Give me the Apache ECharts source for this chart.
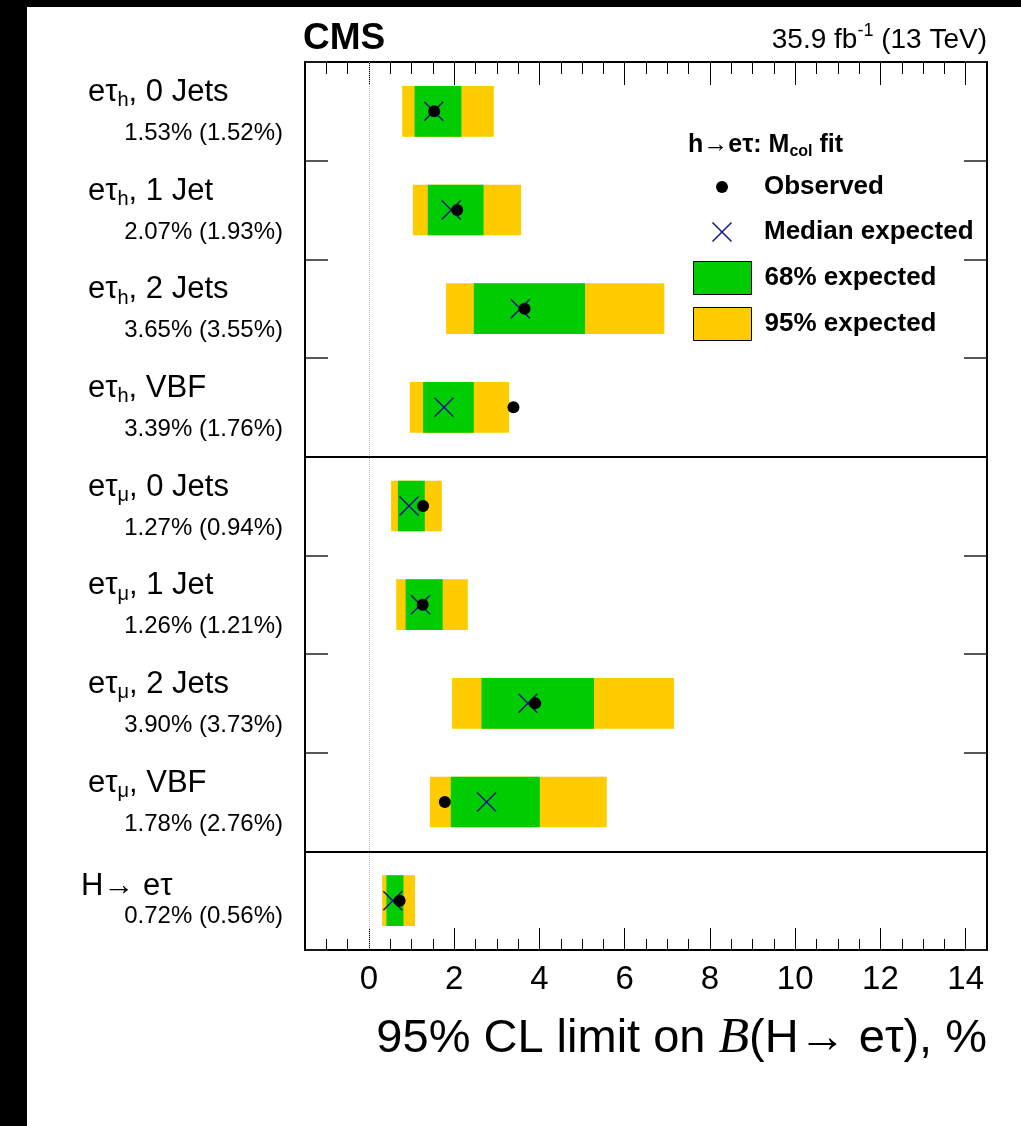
<!DOCTYPE html>
<html>
<head>
<meta charset="utf-8">
<title>95% CL limits on B(H→eτ)</title>
<script src="https://cdn.jsdelivr.net/npm/echarts@6/dist/echarts.min.js"></script>
<style>
  html, body { margin: 0; padding: 0; background: #fff; }
  #chart { width: 1021px; height: 1126px; }
</style>
</head>
<body>
<div id="chart"></div>
<script>
// ---- Channel definitions (top to bottom) ----
const finalStates  = ['eτ', 'eτ', 'eτ', 'eτ', 'eτ', 'eτ', 'eτ', 'eτ', 'H→ eτ'];
const tauDecays    = ['h', 'h', 'h', 'h', 'μ', 'μ', 'μ', 'μ', ''];
const jetCategories = ['0 Jets', '1 Jet', '2 Jets', 'VBF', '0 Jets', '1 Jet', '2 Jets', 'VBF', ''];

// ---- Limits on the branching fraction, in % ----
const observed   = [1.53, 2.07, 3.65, 3.39, 1.27, 1.26, 3.90, 1.78, 0.72];
const expected   = [1.52, 1.93, 3.55, 1.76, 0.94, 1.21, 3.73, 2.76, 0.56];
const band68Low  = [1.07, 1.38, 2.46, 1.27, 0.68, 0.86, 2.64, 1.92, 0.41];
const band68High = [2.17, 2.69, 5.07, 2.46, 1.31, 1.73, 5.28, 4.01, 0.81];
const band95Low  = [0.78, 1.03, 1.81, 0.96, 0.52, 0.64, 1.95, 1.43, 0.31];
const band95High = [2.93, 3.57, 6.93, 3.29, 1.71, 2.32, 7.16, 5.58, 1.08];

// ---- Axis ticks ----
const majorTicks = [0, 2, 4, 6, 8, 10, 12, 14];
const X_MIN = -1.5, X_MAX = 14.5;
const sectionBreaks = [4, 8];

const FONT = "'Liberation Sans', Helvetica, Arial, sans-serif";
const N_ROWS = observed.length;
const HALF_BAND = 0.257;   // half height of a band, in row units

const chart = echarts.init(document.getElementById('chart'), null, { renderer: 'canvas' });

function bandRender(params, api) {
  const lo = api.value(0), hi = api.value(1), row = api.value(2);
  const p1 = api.coord([lo, row + 0.5 - HALF_BAND]);
  const p2 = api.coord([hi, row + 0.5 + HALF_BAND]);
  return {
    type: 'rect',
    shape: {
      x: p1[0], y: Math.min(p1[1], p2[1]),
      width: p2[0] - p1[0], height: Math.abs(p2[1] - p1[1])
    },
    style: { fill: api.visual('color') }
  };
}

function channelLabel(i) {
  if (tauDecays[i]) {
    return '{m|' + finalStates[i] + '}{s|' + tauDecays[i] + '}{m|, ' + jetCategories[i] + '}';
  }
  return '{m|' + finalStates[i] + '}';
}

function limitText(i) {
  return observed[i].toFixed(2) + '% (' + expected[i].toFixed(2) + '%)';
}

function labelRender(params, api) {
  const i = params.dataIndex;
  const p = api.coord([api.value(0), api.value(1)]);
  const isCombined = !tauDecays[i];
  return {
    type: 'group',
    children: [
      {
        type: 'text',
        x: p[0] - (isCombined ? 224 : 217),
        y: p[1] + (isCombined ? -14 : -19),
        style: {
          text: channelLabel(i),
          align: 'left',
          verticalAlign: 'middle',
          fill: '#000',
          rich: {
            m: { fontSize: 31, fontFamily: FONT, color: '#000' },
            s: { fontSize: 20, fontFamily: FONT, color: '#000', padding: [17, 0, 0, 0] }
          }
        }
      },
      {
        type: 'text',
        x: p[0] - 22,
        y: p[1] + (isCombined ? 16 : 22),
        style: {
          text: limitText(i),
          align: 'right',
          verticalAlign: 'middle',
          fill: '#000',
          fontSize: 24,
          fontFamily: FONT
        }
      }
    ]
  };
}

const rowIndex = observed.map((_, i) => i);

function xAxisBase(extra) {
  return Object.assign({
    type: 'value', min: X_MIN, max: X_MAX,
    splitLine: { show: false },
    axisLabel: { show: false },
    axisLine: { show: false, onZero: false },
    axisTick: { show: false }
  }, extra);
}

function yAxisBase(position) {
  return {
    type: 'value', min: 0, max: N_ROWS, interval: 1, inverse: true, position: position,
    axisLine: { show: true, onZero: false, lineStyle: { color: '#000', width: 2 } },
    axisTick: { show: true, inside: true, length: 23, lineStyle: { color: '#222', width: 1.5 } },
    axisLabel: { show: false },
    splitLine: { show: false }
  };
}

const legendText = { fontSize: 26, fontWeight: 'bold', fontFamily: FONT, color: '#000', padding: [0, 0, 0, 8] };

const option = {
  backgroundColor: '#fff',
  animation: false,
  graphic: [
    { type: 'rect', left: 0, top: 0, shape: { width: 1021, height: 7 }, style: { fill: '#000' }, silent: true },
    { type: 'rect', left: 0, top: 0, shape: { width: 27, height: 1126 }, style: { fill: '#000' }, silent: true }
  ],
  title: [
    {
      text: 'CMS', left: 303, top: 20, padding: 0,
      textStyle: { fontSize: 37, fontWeight: 'bold', fontFamily: FONT, color: '#000' }
    },
    {
      text: '{n|35.9 fb}{sup|-1}{n| (13 TeV)}', right: 34, top: 22, padding: 0,
      textStyle: {
        fontWeight: 'normal',
        rich: {
          n: { fontSize: 28, fontWeight: 'normal', fontFamily: FONT, color: '#000' },
          sup: { fontSize: 18, fontWeight: 'normal', fontFamily: FONT, color: '#000', padding: [0, 0, 18, 0] }
        }
      }
    },
    {
      text: '{b|h→eτ: M}{s|col}{b| fit}', left: 688, top: 130, padding: 0,
      textStyle: {
        rich: {
          b: { fontSize: 25, fontWeight: 'bold', fontFamily: FONT, color: '#000' },
          s: { fontSize: 16, fontWeight: 'bold', fontFamily: FONT, color: '#000', padding: [14, 0, 0, 0] }
        }
      }
    }
  ],
  legend: [
    {
      data: ['Observed'], left: 716, top: 174, padding: 0,
      itemWidth: 58, itemHeight: 12, icon: 'circle',
      itemStyle: { color: '#000', opacity: 1 },
      textStyle: legendText
    },
    {
      data: ['Median expected'], left: 710, top: 219, padding: 0,
      itemWidth: 58, itemHeight: 19,
      icon: 'path://M0,0L10,10M10,0L0,10',
      itemStyle: { color: 'none', borderColor: '#14148c', borderWidth: 1.5, opacity: 1 },
      textStyle: legendText
    },
    {
      data: ['68% expected', '95% expected'], orient: 'vertical', left: 693, top: 261, padding: 0,
      itemWidth: 58, itemHeight: 33, itemGap: 12, icon: 'rect',
      itemStyle: { borderColor: '#000', borderWidth: 1 },
      textStyle: legendText
    }
  ],
  grid: { left: 305, right: 34, top: 62, bottom: 176, containLabel: false },
  xAxis: [
    xAxisBase({
      position: 'bottom',
      axisLine: { show: true, onZero: false, lineStyle: { color: '#000', width: 2 } },
      axisTick: { show: true, inside: true, length: 22, customValues: majorTicks, lineStyle: { color: '#000', width: 1 } },
      axisLabel: { show: true, customValues: majorTicks, margin: 13, fontSize: 33, fontFamily: FONT, color: '#000' },
      name: '{t|95% CL limit on }{i|B}{t|(H→ eτ), %}',
      nameLocation: 'end',
      nameGap: 0,
      nameTextStyle: {
        align: 'right', verticalAlign: 'top', padding: [64, 0, 0, 0],
        rich: {
          t: { fontSize: 47, fontFamily: FONT, color: '#000' },
          i: { fontSize: 50, fontFamily: "'Liberation Serif', 'Times New Roman', serif", fontStyle: 'italic', color: '#000' }
        }
      }
    }),
    xAxisBase({
      position: 'bottom', interval: 0.5,
      axisTick: { show: true, inside: true, length: 11, lineStyle: { color: '#000', width: 1 } }
    }),
    xAxisBase({
      position: 'top',
      axisLine: { show: true, onZero: false, lineStyle: { color: '#000', width: 2 } },
      axisTick: { show: true, inside: true, length: 23, customValues: majorTicks, lineStyle: { color: '#000', width: 1 } }
    }),
    xAxisBase({
      position: 'top', interval: 0.5,
      axisTick: { show: true, inside: true, length: 12, lineStyle: { color: '#000', width: 1 } }
    })
  ],
  yAxis: [yAxisBase('left'), yAxisBase('right')],
  series: [
    {
      name: '95% expected',
      type: 'custom',
      xAxisIndex: 0, yAxisIndex: 0,
      itemStyle: { color: '#ffcc00' },
      encode: { x: [0, 1], y: 2 },
      data: rowIndex.map(i => [band95Low[i], band95High[i], i]),
      renderItem: bandRender,
      z: 2,
      markLine: {
        silent: true,
        symbol: ['none', 'none'],
        label: { show: false },
        data: [
          { xAxis: 0, lineStyle: { type: 'dotted', color: '#b4b4b4', width: 1 } }
        ].concat(sectionBreaks.map(v => ({ yAxis: v, lineStyle: { type: 'solid', color: '#000', width: 2 } })))
      }
    },
    {
      name: '68% expected',
      type: 'custom',
      xAxisIndex: 0, yAxisIndex: 0,
      itemStyle: { color: '#00cc00' },
      encode: { x: [0, 1], y: 2 },
      data: rowIndex.map(i => [band68Low[i], band68High[i], i]),
      renderItem: bandRender,
      z: 3
    },
    {
      name: 'Median expected',
      type: 'scatter',
      xAxisIndex: 0, yAxisIndex: 0,
      symbol: 'path://M0,0L10,10M10,0L0,10',
      symbolSize: 19,
      itemStyle: { color: 'none', borderColor: '#14148c', borderWidth: 1.5, opacity: 1 },
      data: rowIndex.map(i => [expected[i], i + 0.5]),
      z: 4
    },
    {
      name: 'Observed',
      type: 'scatter',
      xAxisIndex: 0, yAxisIndex: 0,
      symbol: 'circle',
      symbolSize: 12,
      itemStyle: { color: '#000', opacity: 1 },
      data: rowIndex.map(i => [observed[i], i + 0.5]),
      z: 5
    },
    {
      type: 'custom',
      xAxisIndex: 0, yAxisIndex: 0,
      silent: true,
      clip: false,
      data: rowIndex.map(i => [X_MIN, i + 0.5]),
      renderItem: labelRender,
      z: 6
    }
  ]
};

chart.setOption(option);
</script>
</body>
</html>
